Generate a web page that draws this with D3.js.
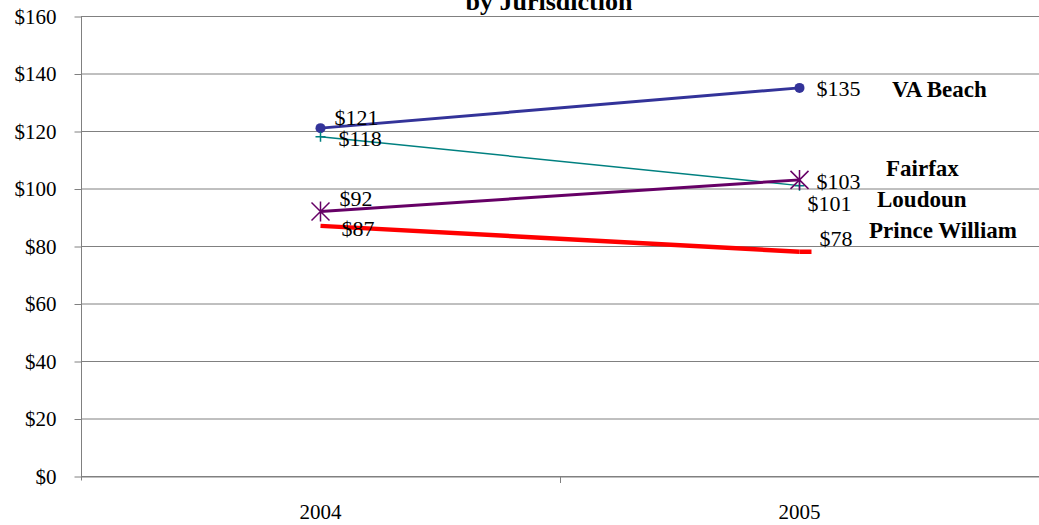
<!DOCTYPE html>
<html>
<head>
<meta charset="utf-8">
<script src="https://cdn.jsdelivr.net/npm/d3@7"></script>
<style>
  body { margin: 0; background: #fff; }
  svg { display: block; font-family: "Liberation Serif", "Times New Roman", serif; }
</style>
</head>
<body>
<div id="chart"></div>
<script>
// DATA
var years = ['2004', '2005'];
var seriesNames = ['VA Beach', 'Loudoun', 'Fairfax', 'Prince William'];
var vaBeach = [121, 135];
var loudoun = [118, 101];
var fairfax = [92, 103];
var princeWilliam = [87, 78];
var yTicks = [0, 20, 40, 60, 80, 100, 120, 140, 160];
var titleText = 'by Jurisdiction';

// STYLE PER SERIES (not data)
var styles = {
  'VA Beach':       { color: '#333399', width: 3,   marker: 'circle' },
  'Loudoun':        { color: '#008080', width: 1.5, marker: 'plus' },
  'Fairfax':        { color: '#660066', width: 3,   marker: 'star' },
  'Prince William': { color: '#ff0000', width: 4.5, marker: 'none' }
};
// label offsets from the point, [2004, 2005]
var labelOffsets = {
  'VA Beach':       [[14, -3], [17, 8]],
  'Loudoun':        [[18, 9], [8, 25]],
  'Fairfax':        [[19, -6], [17, 9]],
  'Prince William': [[21, 10], [20, -6]]
};
var legendPos = {
  'VA Beach':       [892, 97],
  'Fairfax':        [886, 176],
  'Loudoun':        [877, 207],
  'Prince William': [869, 238]
};

var seriesValues = [vaBeach, loudoun, fairfax, princeWilliam];

var width = 1039, height = 525;
var margin = { left: 81, right: 0, top: 16, bottom: 49 };

var svg = d3.select('#chart').append('svg')
  .attr('width', width)
  .attr('height', height);

var x = d3.scaleBand()
  .domain(years)
  .range([margin.left, width - margin.right]);

var y = d3.scaleLinear()
  .domain([0, 160])
  .range([height - margin.bottom, margin.top]);

// GRID LINES
svg.append('g').selectAll('line')
  .data(yTicks)
  .enter().append('line')
  .attr('x1', margin.left)
  .attr('x2', width)
  .attr('y1', function(d) { return y(d) + 0.5; })
  .attr('y2', function(d) { return y(d) + 0.5; })
  .attr('stroke', '#808080')
  .attr('stroke-width', 1);

// Y AXIS
var yAxis = svg.append('g')
  .attr('transform', 'translate(' + (margin.left + 0.5) + ',0.5)')
  .call(d3.axisLeft(y).tickValues(yTicks).tickSize(7).tickPadding(18)
    .tickFormat(function(d) { return '$' + d; }));
yAxis.select('.domain').attr('stroke', '#808080').attr('d', 'M0,' + (y(160) - 0.5) + 'V' + (y(0) + 4));
yAxis.selectAll('.tick line').attr('stroke', '#808080');
yAxis.selectAll('.tick text')
  .attr('fill', '#000')
  .style('font-size', '21px')
  .style('font-family', '"Liberation Serif", "Times New Roman", serif');

// X AXIS
var xAxis = svg.append('g')
  .attr('transform', 'translate(0,' + (y(0) + 0.5) + ')')
  .call(d3.axisBottom(x).tickSize(0).tickPadding(28));
xAxis.select('.domain').attr('stroke', '#808080');
xAxis.selectAll('.tick text')
  .attr('fill', '#000')
  .style('font-size', '21px')
  .style('font-family', '"Liberation Serif", "Times New Roman", serif');
// tick mark between categories
svg.append('line')
  .attr('x1', x('2005') + 0.5).attr('x2', x('2005') + 0.5)
  .attr('y1', y(0)).attr('y2', y(0) + 7)
  .attr('stroke', '#808080');

// TITLE (top line is cropped off in the original)
svg.append('text')
  .attr('x', 549)
  .attr('y', 10)
  .attr('text-anchor', 'middle')
  .style('font-size', '26px')
  .style('font-weight', 'bold')
  .text(titleText);

// LINES
var cx = function(i) { return x(years[i]) + x.bandwidth() / 2; };
var line = d3.line()
  .x(function(d, i) { return cx(i); })
  .y(function(d) { return y(d); });

seriesNames.forEach(function(name, s) {
  var vals = seriesValues[s];
  var st = styles[name];
  var g = svg.append('g');

  g.append('path')
    .datum(vals)
    .attr('d', line)
    .attr('fill', 'none')
    .attr('stroke', st.color)
    .attr('stroke-width', st.width);

  // markers
  vals.forEach(function(v, i) {
    var px = cx(i), py = y(v);
    if (st.marker == 'circle') {
      g.append('circle').attr('cx', px).attr('cy', py).attr('r', 5).attr('fill', st.color);
    } else if (st.marker == 'plus') {
      g.append('path')
        .attr('d', 'M' + (px - 5) + ',' + py + 'H' + (px + 5) + 'M' + px + ',' + (py - 5) + 'V' + (py + 5))
        .attr('stroke', st.color).attr('stroke-width', 1.5);
    } else if (st.marker == 'star') {
      var r = 9;
      g.append('path')
        .attr('d', 'M' + (px - r) + ',' + (py - r) + 'L' + (px + r) + ',' + (py + r) +
                   'M' + (px - r) + ',' + (py + r) + 'L' + (px + r) + ',' + (py - r) +
                   'M' + px + ',' + (py - r - 1) + 'V' + (py + r + 1))
        .attr('stroke', st.color).attr('stroke-width', 1.5);
    } else if (i == 1) {
      // short dash at the end of the red line
      g.append('path')
        .attr('d', 'M' + px + ',' + py + 'H' + (px + 12))
        .attr('stroke', st.color).attr('stroke-width', st.width);
    }

    // value labels
    var off = labelOffsets[name][i];
    g.append('text')
      .attr('x', px + off[0])
      .attr('y', py + off[1])
      .style('font-size', '22px')
      .text('$' + v);
  });

  // series name label
  svg.append('text')
    .attr('x', legendPos[name][0])
    .attr('y', legendPos[name][1])
    .style('font-size', '23px')
    .style('font-weight', 'bold')
    .text(name);
});
</script>
</body>
</html>
